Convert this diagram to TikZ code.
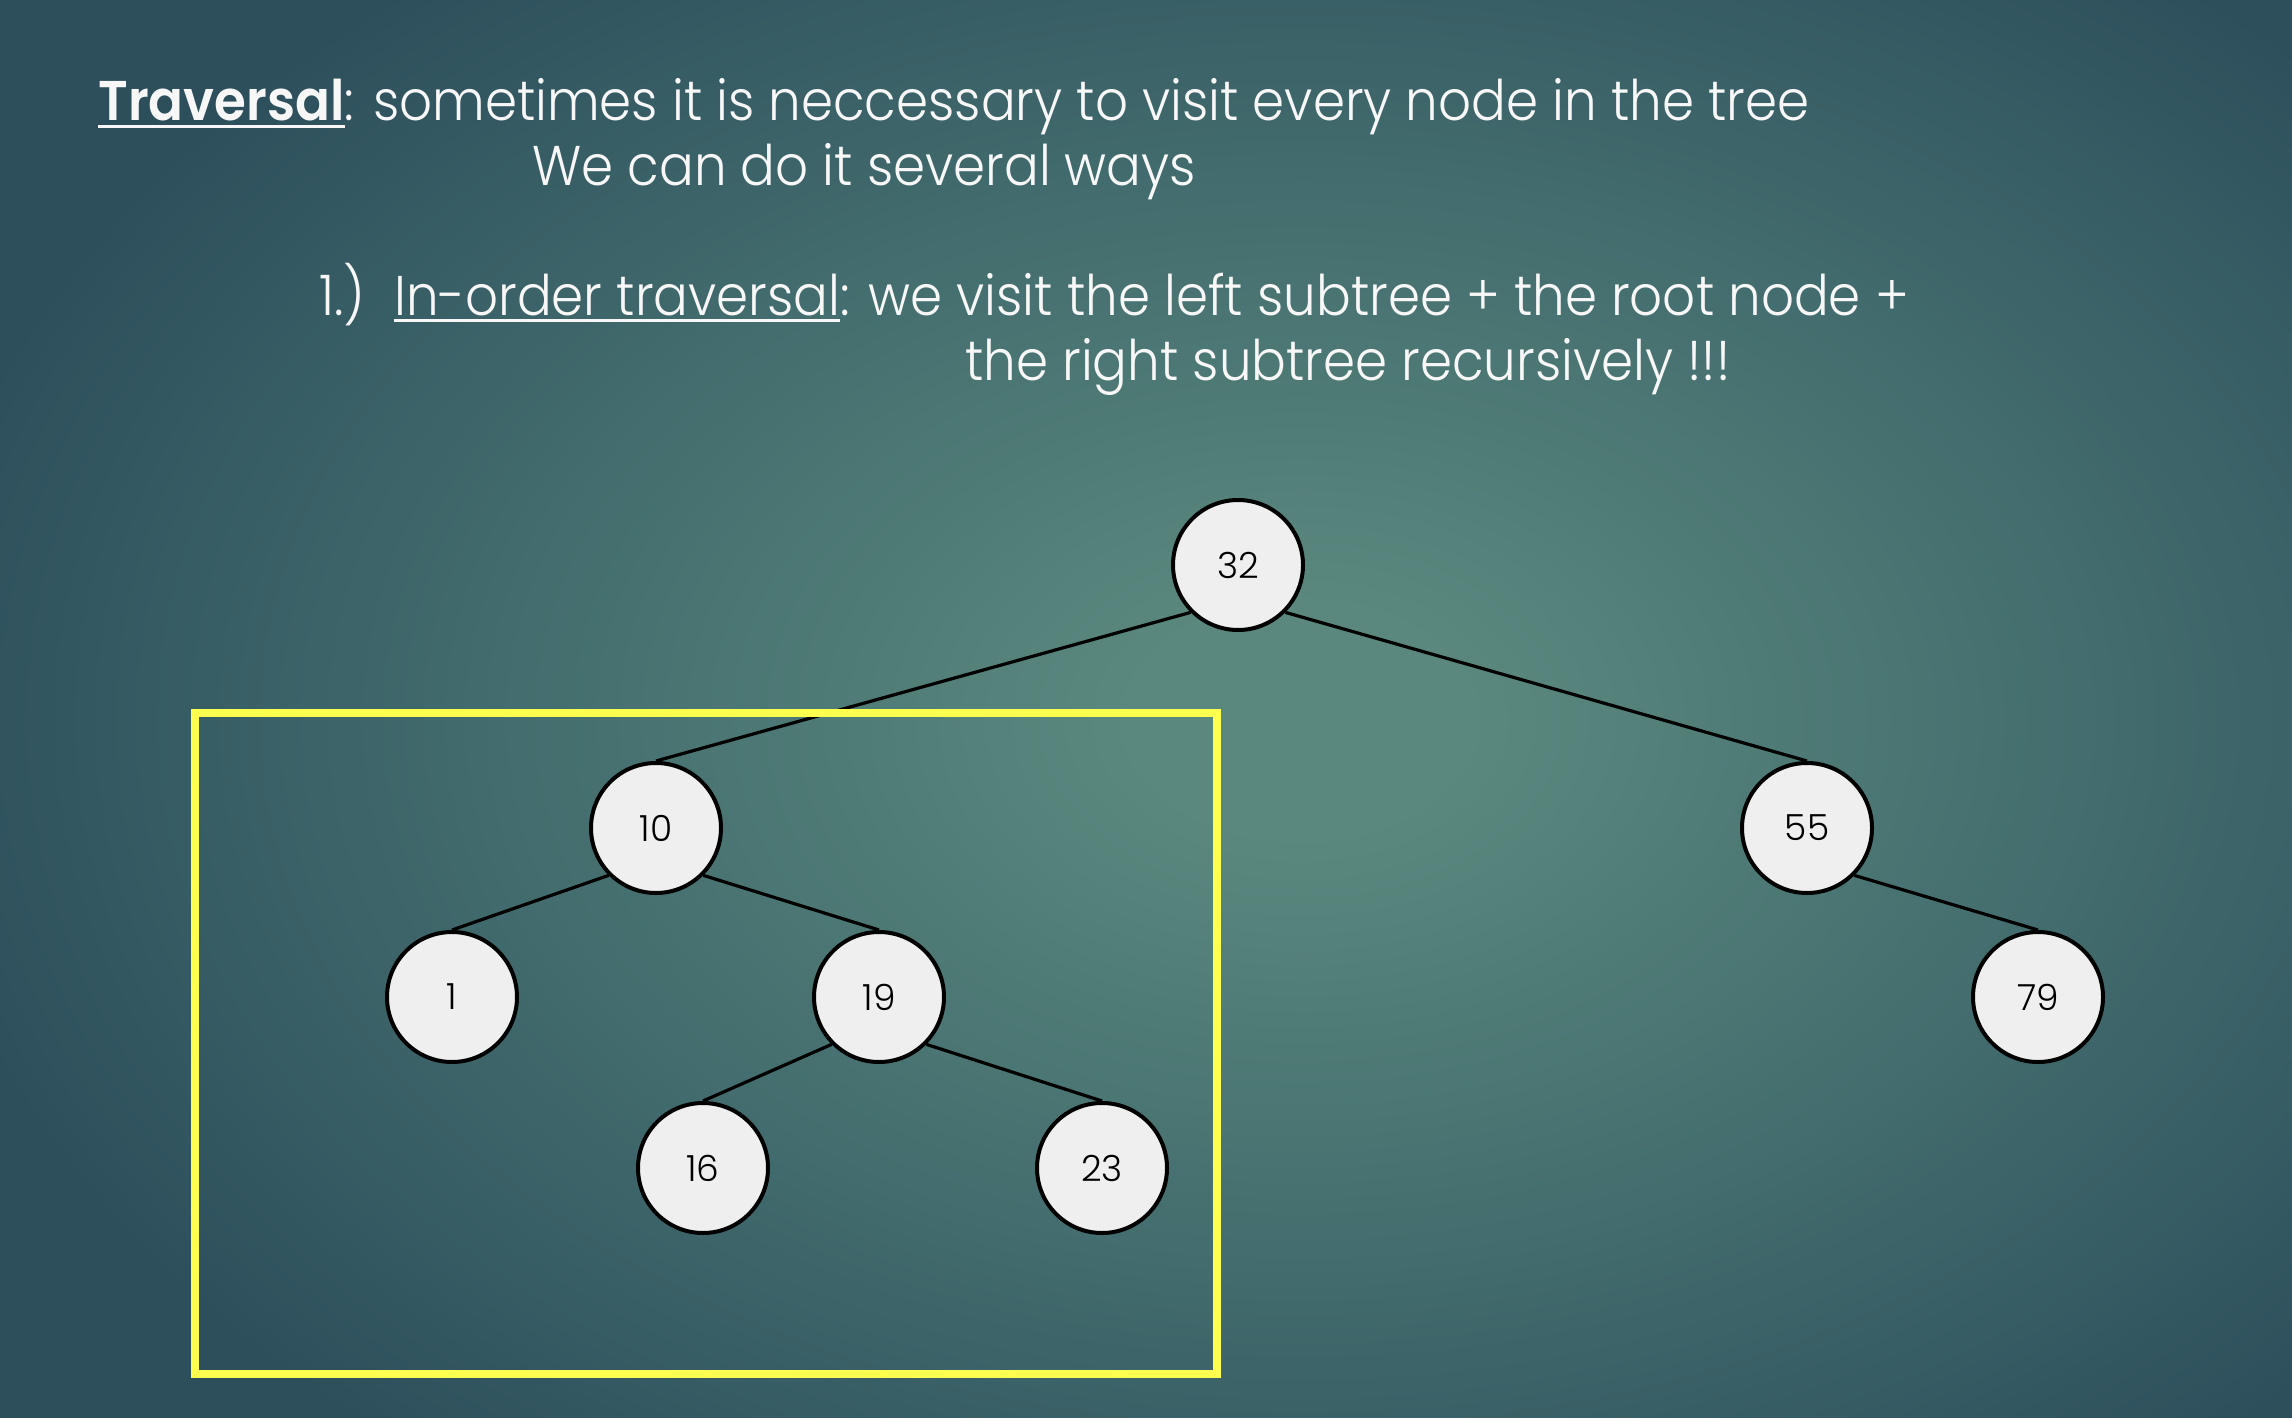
\documentclass[tikz,border=0pt]{standalone}
\usepackage{fontspec}
\setmainfont{Poppins}[FakeStretch=0.92, UprightFont={* Light}]
\newfontfamily\numfont{Poppins Light}
\definecolor{bgin}{HTML}{5A887E}
\definecolor{bgmid}{HTML}{436D6E}
\definecolor{bgout}{HTML}{2D4F5C}
\definecolor{nodefill}{HTML}{EFEFF0}
\definecolor{boxyellow}{HTML}{FFFF4F}
\definecolor{txtwhite}{HTML}{F7F7F7}
\pgfdeclareradialshading{bgrad}{\pgfpoint{0bp}{0bp}}{color(0bp)=(bgin); color(3bp)=(bgin); color(14bp)=(bgmid); color(25bp)=(bgout); color(50bp)=(bgout)}
\newcommand\myul[1]{\setbox0=\hbox{#1}\rlap{\rule[-3.6pt]{\wd0}{1.7pt}}\box0}
\begin{document}
\begin{tikzpicture}[x=0.5pt,y=-0.5pt,
  tnode/.style={circle,draw=black,line width=2pt,fill=nodefill,minimum size=65pt,inner sep=0pt,font=\numfont\fontsize{18}{20}\selectfont,text=black},
  conn/.style={line width=1.6pt,draw=black},
  txt/.style={anchor=base west,inner sep=0pt,text=txtwhite,font=\fontsize{28}{34}\selectfont},
  ybox/.style={draw=boxyellow,line width=4pt}]
\useasboundingbox (0,0) rectangle (2292,1418);
\fill[bgout] (0,0) rectangle (2292,1418);
\begin{scope}
\clip (0,0) rectangle (2292,1418);
\shade[shading=bgrad] (1300,720) ellipse [x radius=1400, y radius=950];
\end{scope}
% text
\node[txt] (t1) at (98,121) {\myul{\textbf{Traversal}}: sometimes it is neccessary to visit every node in the tree};
\node[txt] (t2) at (532,185) {We can do it several ways};
\node[txt] (t3) at (319,315) {1.)\hspace{5pt} \myul{In-order traversal}: we visit the left subtree + the root node +};
\node[txt] (t4) at (965,380) {the right subtree recursively !!!};
% tree nodes
\node[tnode] (n32) at (1238,565) {32};
\node[tnode] (n10) at (656,828) {10};
\node[tnode] (n55) at (1807,828) {55};
\node[tnode] (n1) at (452,997) {1};
\node[tnode] (n19) at (879,997) {19};
\node[tnode] (n79) at (2038,997) {79};
\node[tnode] (n16) at (703,1168) {16};
\node[tnode] (n23) at (1102,1168) {23};
% edges
\draw[conn] (n32.south west) -- (n10.north);
\draw[conn] (n32.south east) -- (n55.north);
\draw[conn] (n10.south west) -- (n1.north);
\draw[conn] (n10.south east) -- (n19.north);
\draw[conn] (n19.south west) -- (n16.north);
\draw[conn] (n19.south east) -- (n23.north);
\draw[conn] (n55.south east) -- (n79.north);
% highlight box
\draw[ybox] (195,713) rectangle (1217,1374);
\end{tikzpicture}
\end{document}
